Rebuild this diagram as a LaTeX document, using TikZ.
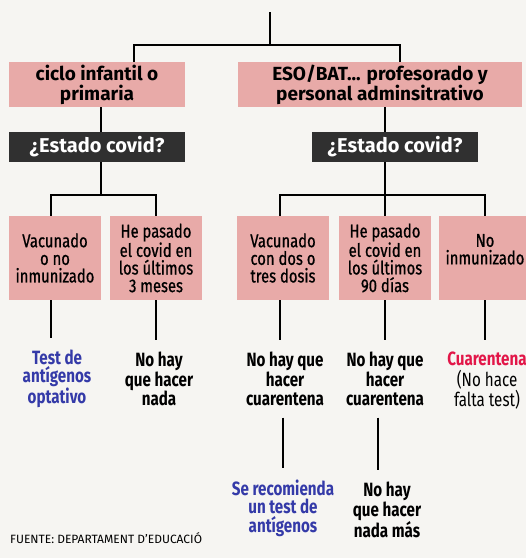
\documentclass[tikz,border=0pt]{standalone}
\usepackage{fontspec}
\setmainfont{Fira Sans}
\newfontfamily\narrowfont[FakeStretch=0.79]{Fira Sans}
\newfontfamily\casefont[FakeStretch=0.8,FakeBold=0.8]{Fira Sans}
\usetikzlibrary{positioning,calc}
\definecolor{boxpink}{RGB}{232,170,168}
\definecolor{boxdark}{RGB}{48,48,48}
\definecolor{textblue}{RGB}{52,58,168}
\definecolor{textred}{RGB}{226,22,72}
\definecolor{paper}{RGB}{246,245,242}
\tikzset{
  conn/.style={line width=2.2pt},
  group/.style={fill=boxpink,font=\bfseries\fontsize{19}{20}\selectfont,
    align=center,inner sep=0pt,minimum height=45pt},
  status/.style={fill=boxdark,text=white,font=\bfseries\fontsize{20}{20}\selectfont,
    inner sep=0pt,minimum height=30pt},
  case/.style={fill=boxpink,font=\casefont\fontsize{18.5}{17.6}\selectfont,
    align=center,inner sep=0pt,minimum width=92pt,minimum height=84pt},
  result/.style={font=\narrowfont\bfseries\fontsize{19.2}{18.5}\selectfont,
    align=center,inner sep=0pt,outer ysep=12pt}
}
\begin{document}
\begin{tikzpicture}[x=1pt,y=-1pt]
\fill[paper] (0,0) rectangle (526,558);
\useasboundingbox (0,0) rectangle (526,558);
\coordinate (top) at (270,12);
\coordinate (fork) at (270,45);
\node[group,minimum width=176pt] (infantil) at (97,84.5) {ciclo infantil o\\primaria};
\node[group,minimum width=284pt] (eso) at (380,84.5) {ESO/BAT... profesorado y\\personal adminsitrativo};
\node[status,minimum width=176pt] (estA) at (97,147) {¿Estado covid?};
\node[status,minimum width=166pt] (estB) at (395,147) {¿Estado covid?};
\coordinate (forkA) at (101,195);
\coordinate (forkB) at (385,195);
\node[case] (A) at (55,258) {Vacunado\\o no\\inmunizado};
\node[case] (B) at (156,258) {He pasado\\el covid en\\los últimos\\3 meses};
\node[case] (C) at (283,258) {Vacunado\\con dos o\\tres dosis};
\node[case] (D) at (385,258) {He pasado\\el covid en\\los últimos\\90 días};
\node[case] (E) at (485,258) {No\\inmunizado\\\phantom{x}};
\node[result,text=textblue] (resA) at (57,379) {Test de\\antígenos\\optativo};
\node[result] (resB) at (159,379) {No hay\\que hacer\\nada};
\node[result] (resC) at (285,379) {No hay que\\hacer\\cuarentena};
\node[result] (resD) at (385,379) {No hay que\\hacer\\cuarentena};
\node[result,font=\narrowfont\bfseries\fontsize{19.2}{20.5}\selectfont] (resE) at (487,381)
  {\textcolor{textred}{Cuarentena}\\\mdseries(No hace\\\mdseries falta test)};
\node[result,text=textblue] (rec) at (283,508) {Se recomienda\\un test de\\antígenos};
\node[result] (nada) at (387,510) {No hay\\que hacer\\nada más};
\node[anchor=west,inner sep=0pt,font=\fontsize{12}{14}\selectfont] (fuente) at (10,538)
  {FUENTE: DEPARTAMENT D’EDUCACIÓ};
\draw[conn] (top) -- (fork);
\draw[conn] ([xshift=37pt]infantil.north) |- (fork) -| ([xshift=20pt]eso.north);
\draw[conn] ([xshift=4pt]infantil.south) -- ([xshift=4pt]infantil.south |- estA.north);
\draw[conn] ([xshift=5pt]eso.south) -- ([xshift=5pt]eso.south |- estB.north);
\draw[conn] ([xshift=4pt]estA.south) -- (forkA);
\draw[conn] ([xshift=-4pt]A.north) |- (forkA) -| (B.north);
\draw[conn] ([xshift=-10pt]estB.south) -- (forkB);
\draw[conn] ([xshift=-3pt]C.north) |- (forkB) -| (E.north);
\draw[conn] (forkB) -- (D.north);
\draw[conn] ([xshift=-4pt]A.south) -- ([xshift=-4pt]A.south |- resA.north);
\draw[conn] (B.south) -- (B.south |- resB.north);
\draw[conn] ([xshift=-3pt]C.south) -- ([xshift=-3pt]C.south |- resC.north);
\draw[conn] (D.south) -- (D.south |- resD.north);
\draw[conn] (E.south) -- (E.south |- resE.north);
\draw[conn] ([xshift=-2pt]resC.south) -- (rec.north);
\draw[conn] ([xshift=-7pt]resD.south) -- ([xshift=-9pt]nada.north);
\end{tikzpicture}
\end{document}
